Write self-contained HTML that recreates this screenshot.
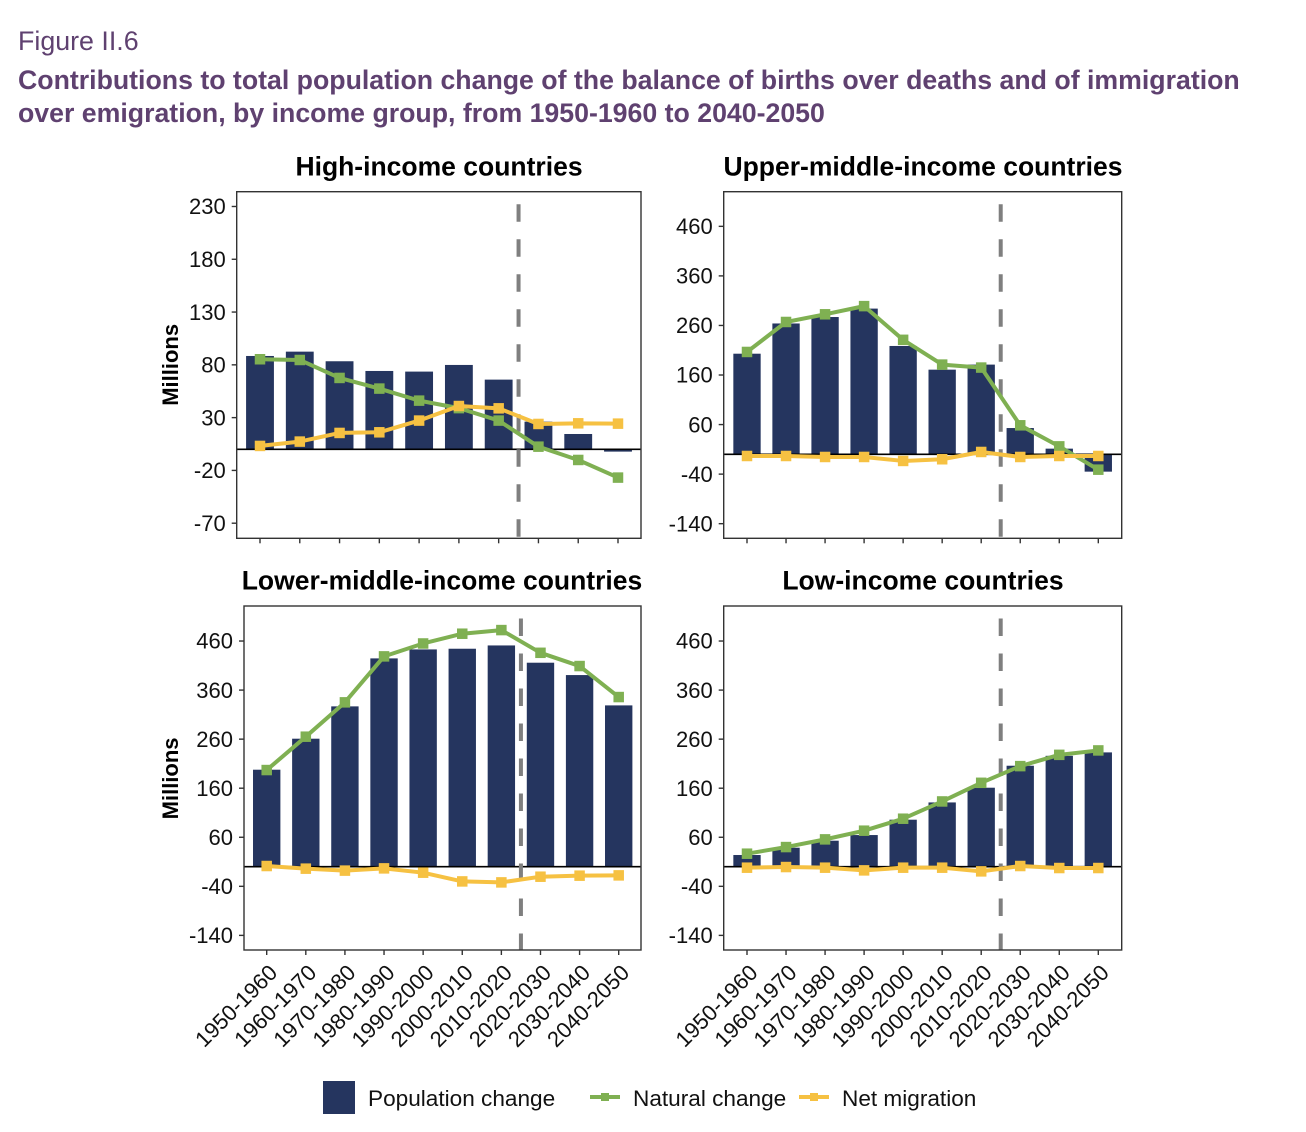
<!DOCTYPE html>
<html lang="en">
<head>
<meta charset="utf-8">
<title>Figure II.6</title>
<style>
html,body{margin:0;padding:0;background:#fff;}
svg{display:block;font-family:"Liberation Sans",Arial,sans-serif;}
</style>
</head>
<body>
<svg id="chart" xmlns="http://www.w3.org/2000/svg" width="1306" height="1132" viewBox="0 0 1306 1132">
  <text x="18" y="50" font-size="26.8" fill="#5f4170">Figure II.6</text>
  <text x="18" y="89" font-size="26.7" font-weight="bold" fill="#5f4170">Contributions to total population change of the balance of births over deaths and of immigration</text>
  <text x="18" y="122" font-size="26.7" font-weight="bold" fill="#5f4170">over emigration, by income group, from 1950-1960 to 2040-2050</text>

  <rect x="323" y="1081" width="32" height="33" fill="#25355f"/>
  <text x="368" y="1106" font-size="22.6" fill="#111">Population change</text>
  <line x1="590" x2="620" y1="1097" y2="1097" stroke="#7fb052" stroke-width="4"/>
  <rect x="601" y="1093" width="8" height="8" fill="#7fb052"/>
  <text x="633" y="1106" font-size="22.6" fill="#111">Natural change</text>
  <line x1="799" x2="829" y1="1097" y2="1097" stroke="#f6c142" stroke-width="4"/>
  <rect x="810" y="1093" width="8" height="8" fill="#f6c142"/>
  <text x="842" y="1106" font-size="22.6" fill="#111">Net migration</text>
</svg>
<script>
const categories = ["1950-1960","1960-1970","1970-1980","1980-1990","1990-2000","2000-2010","2010-2020","2020-2030","2030-2040","2040-2050"];

const highTicks = [230,180,130,80,30,-20,-70];
const highPopulation = [88.4,92.5,83.4,74.2,73.6,79.9,66,26.2,14.5,-2.2];
const highNatural = [85.3,84.6,67.6,57.5,46.1,39,27.2,2.5,-10.1,-26.8];
const highMigration = [3.2,7.3,15.5,16.1,27.2,41,38.8,24,24.6,24.3];

const upperTicks = [460,360,260,160,60,-40,-140];
const upperPopulation = [203,264,277,294,218.6,170.8,181,53,11.4,-35];
const upperNatural = [206.5,267,282.5,299,231,181,175,58.5,16,-31];
const upperMigration = [-3.4,-3.4,-5.4,-5.4,-13.4,-10,4.7,-5.4,-3.4,-3.4];

const lowerTicks = [460,360,260,160,60,-40,-140];
const lowerPopulation = [197.7,260.9,326.8,424.6,442.9,444.3,451,415.8,390.6,328.8];
const lowerNatural = [197,265,335,428.7,455,474.9,482.3,436,409,345.8];
const lowerMigration = [1.4,-4,-8,-3.4,-12.2,-30,-32,-20.4,-18.3,-17.7];

const lowTicks = [460,360,260,160,60,-40,-140];
const lowPopulation = [23.8,38.7,53,64.5,95.8,131,161,205.8,226,233];
const lowNatural = [26.5,40,55.7,73.4,97.8,133,171,205,228,237];
const lowMigration = [-2,-0.7,-2,-7.5,-2,-2,-9.5,1.4,-2.7,-2.7];

const svg = document.getElementById('chart');
const NS = 'http://www.w3.org/2000/svg';

function make(parent, tag, attrs, text) {
  const el = document.createElementNS(NS, tag);
  for (const k in attrs) el.setAttribute(k, attrs[k]);
  if (text !== undefined) el.textContent = text;
  parent.appendChild(el);
  return el;
}

function drawPanel(opts) {
  const g = make(svg, 'g', {});
  
  

  const xPos = function (i) { return opts.xFirst + i * (opts.xLast - opts.xFirst) / (categories.length - 1); };
  const yPos = function (v) { return opts.top + (opts.domMax - v) / (opts.domMax - opts.domMin) * (opts.bottom - opts.top); };
  const step = (opts.xLast - opts.xFirst) / (categories.length - 1);
  const barW = step * 0.7;

  const title = make(g, 'text', {x: opts.titleX, y: opts.top - 16.3, 'font-size': 26.5, 'font-weight': 'bold', 'text-anchor': 'middle', fill: '#000'}, opts.title);
  
  

  opts.population.forEach(function (v, i) {
    const y0 = yPos(0), y1 = yPos(v);
    const bar = make(g, 'rect', {x: xPos(i) - barW / 2, y: Math.min(y0, y1), width: barW, height: Math.abs(y1 - y0), fill: '#25355f'});
    
    
  });

  const zero = make(g, 'line', {x1: opts.left, x2: opts.right, y1: yPos(0), y2: yPos(0), stroke: '#000', 'stroke-width': 1.6});
  
  

  const dash = make(g, 'line', {x1: xPos(6.5), x2: xPos(6.5), y1: opts.top + 12.5, y2: opts.bottom, stroke: '#7f7f7f', 'stroke-width': 4, 'stroke-dasharray': '17.5 17.5'});
  
  

  [[opts.natural, '#7fb052', 'natural-change'], [opts.migration, '#f6c142', 'net-migration']].forEach(function (s) {
    const pts = s[0].map(function (v, i) { return xPos(i) + ',' + yPos(v); }).join(' ');
    const line = make(g, 'polyline', {points: pts, fill: 'none', stroke: s[1], 'stroke-width': 4, 'stroke-linejoin': 'round'});
    
    
    s[0].forEach(function (v, i) {
      const m = make(g, 'rect', {x: xPos(i) - 5.25, y: yPos(v) - 5.25, width: 10.5, height: 10.5, fill: s[1]});
      
      
    });
  });

  const frame = make(g, 'rect', {x: opts.left, y: opts.top, width: opts.right - opts.left, height: opts.bottom - opts.top, fill: 'none', stroke: '#333', 'stroke-width': 1.4});
  
  

  opts.ticks.forEach(function (t) {
    const tick = make(g, 'line', {x1: opts.left - 5, x2: opts.left, y1: yPos(t), y2: yPos(t), stroke: '#333', 'stroke-width': 1.4});
    
    
    const lab = make(g, 'text', {x: opts.left - 11, y: yPos(t) + 7.7, 'font-size': 22, 'text-anchor': 'end', fill: '#111'}, String(t));
    
    
  });

  categories.forEach(function (c, i) {
    const tick = make(g, 'line', {x1: xPos(i), x2: xPos(i), y1: opts.bottom, y2: opts.bottom + 5, stroke: '#333', 'stroke-width': 1.4});
    
    
    if (opts.showX) {
      const ax = xPos(i) + 12, ay = opts.bottom + 24;
      const lab = make(g, 'text', {x: ax, y: ay, 'font-size': 22, 'text-anchor': 'end', fill: '#111', transform: 'rotate(-45 ' + ax + ' ' + ay + ')'}, c);
      
      
    }
  });

  if (opts.showY) {
    const cy = yPos(opts.yTitleAt);
    const yt = make(g, 'text', {x: 178, y: cy, 'font-size': 22, 'font-weight': 'bold', 'text-anchor': 'middle', fill: '#000', transform: 'rotate(-90 178 ' + cy + ')'}, 'Millions');
    
    
  }
}

drawPanel({name: 'high-income', title: 'High-income countries', titleX: 439, left: 236.7, right: 641, top: 191.7, bottom: 538.3, xFirst: 260, xLast: 618, domMax: 244, domMin: -84.3, ticks: highTicks, population: highPopulation, natural: highNatural, migration: highMigration, showX: false, showY: true, yTitleAt: 80});
drawPanel({name: 'upper-middle-income', title: 'Upper-middle-income countries', titleX: 923, left: 723.7, right: 1121.7, top: 191.7, bottom: 538.3, xFirst: 747, xLast: 1098.3, domMax: 529.9, domMin: -169.5, ticks: upperTicks, population: upperPopulation, natural: upperNatural, migration: upperMigration, showX: false, showY: false});
drawPanel({name: 'lower-middle-income', title: 'Lower-middle-income countries', titleX: 442, left: 244, right: 641, top: 606, bottom: 950, xFirst: 266.7, xLast: 618.7, domMax: 531.4, domMin: -169.8, ticks: lowerTicks, population: lowerPopulation, natural: lowerNatural, migration: lowerMigration, showX: true, showY: true, yTitleAt: 180});
drawPanel({name: 'low-income', title: 'Low-income countries', titleX: 923, left: 723.7, right: 1121.7, top: 606, bottom: 950, xFirst: 747, xLast: 1098.3, domMax: 531.4, domMin: -169.8, ticks: lowTicks, population: lowPopulation, natural: lowNatural, migration: lowMigration, showX: true, showY: false});
</script>
</body>
</html>
